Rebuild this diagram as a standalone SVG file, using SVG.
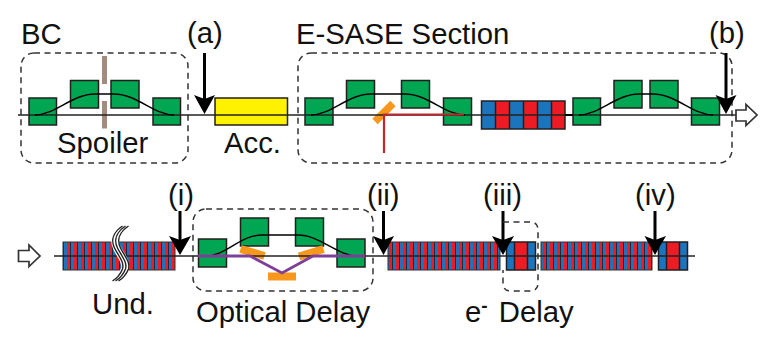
<svg xmlns="http://www.w3.org/2000/svg" width="766" height="337" viewBox="0 0 766 337">
<style>
text{font-family:"Liberation Sans",Arial,sans-serif;font-size:29.3px;fill:#111}
.g{fill:#00a651;stroke:#231f20;stroke-width:1.5}
.box{fill:none;stroke:#333;stroke-width:1.5;stroke-dasharray:6 4.5}
.beam{fill:none;stroke:#222;stroke-width:1.4}
.curve{fill:none;stroke:#000;stroke-width:1.4}
.arr{stroke:#000;stroke-width:3;fill:none}
.hd{fill:#000}
.b{fill:#1c75bc}.r{fill:#ed1c24}
.o{stroke:#231f20;stroke-width:1.5;fill:none}
.m{fill:#f7981d}
.hollow{fill:#fff;stroke:#333;stroke-width:1.7}
.w{fill:none;stroke:#222;stroke-width:1.4}
</style>
<defs>
<pattern id="st" width="7" height="28" patternUnits="userSpaceOnUse" x="63" y="242">
<rect width="7" height="28" fill="#1c75bc"/><rect x="4" width="3" height="28" fill="#ed1c24"/><rect x="0" width="1" height="28" fill="#1a2a44"/>
</pattern>
</defs>
<rect width="766" height="337" fill="#fff"/>
<g id="labels">
<text x="21" y="44">BC</text>
<text x="187" y="43">(a)</text>
<text x="296" y="44">E-SASE Section</text>
<text x="709" y="43">(b)</text>
<text x="57" y="153">Spoiler</text>
<text x="224" y="153">Acc.</text>
<text x="168" y="205">(i)</text>
<text x="367" y="205">(ii)</text>
<text x="483" y="205">(iii)</text>
<text x="635" y="205">(iv)</text>
<text x="92" y="314">Und.</text>
<text x="196" y="322">Optical Delay</text>
<text x="465" y="322">e<tspan font-size="19" font-weight="bold" dy="-10">-</tspan><tspan dy="10" dx="3"> Delay</tspan></text>
</g>
<g id="bc">
<rect class="box" x="21" y="53" width="167" height="110" rx="13"/>
<rect class="g" x="29" y="98" width="27.5" height="27"/>
<rect class="g" x="70.5" y="80.5" width="28" height="27.5"/>
<rect class="g" x="111" y="80.5" width="28" height="27.5"/>
<rect class="g" x="153" y="98" width="27.5" height="27"/>
<rect x="102" y="56" width="5" height="28" fill="#a38b7d"/>
<rect x="102" y="101" width="5" height="27.5" fill="#a38b7d"/>
</g>
<g id="acc"><rect x="215" y="98" width="72.5" height="27" fill="#fff200" stroke="#231f20" stroke-width="1.5"/></g>
<g id="esase">
<rect class="box" x="298" y="53" width="434" height="110" rx="13"/>
<rect class="g" x="305" y="98" width="28" height="27"/>
<rect class="g" x="346.5" y="80.5" width="28" height="27.5"/>
<rect class="g" x="401.5" y="80.5" width="28" height="27.5"/>
<rect class="g" x="443.5" y="98" width="28" height="27"/>
<line x1="375" y1="121.5" x2="393" y2="103.5" stroke="#f7981d" stroke-width="7.5"/>
<rect class="g" x="573" y="98" width="27.5" height="27"/>
<rect class="g" x="614" y="80.5" width="28" height="27.5"/>
<rect class="g" x="650" y="80.5" width="28" height="27.5"/>
<rect class="g" x="691.5" y="98" width="28" height="27"/>
<g id="und-top">
<rect class="b" x="481.5" y="101" width="14" height="28"/><rect class="r" x="495.5" y="101" width="14" height="28"/><rect class="b" x="509.5" y="101" width="14" height="28"/><rect class="r" x="523.5" y="101" width="14" height="28"/><rect class="b" x="537.5" y="101" width="14" height="28"/><rect class="r" x="551.5" y="101" width="13.5" height="28"/>
<path class="o" d="M481.5 101H565V129H481.5ZM495.5 101V129M509.5 101V129M523.5 101V129M537.5 101V129M551.5 101V129"/>
</g>
</g>
<g id="connectors">
<line class="beam" x1="18" y1="115" x2="736" y2="115"/>
<line x1="565" y1="115" x2="573" y2="115" stroke="#000" stroke-width="2"/>
<path class="curve" d="M35 115C55 115 72 94 95 94H114C137 94 154 115 174 115"/>
<path class="curve" d="M311 115C331 115 348 94 371 94H405C428 94 445 115 465 115"/>
<path class="curve" d="M579 115C599 115 616 94 639 94H653C676 94 693 115 713 115"/>
<path d="M384 153V114.5H464" fill="none" stroke="#c1272d" stroke-width="2.2"/>
<line class="arr" x1="204.5" y1="53" x2="204.5" y2="100"/>
<path class="hd" d="M194 95L204.5 99L215 95L204.5 114Z"/>
<line class="arr" x1="726" y1="53" x2="726" y2="100"/>
<path class="hd" d="M715.5 95L726 99L736.5 95L726 114Z"/>
<path class="hollow" d="M736 110H746V104.5L757 115L746 125.5V121H736Z"/>
<path class="hollow" d="M18.5 250.5H29V245L40 256L29 266.5V261.5H18.5Z"/>
</g>
<g id="undulators">
<rect x="63" y="242" width="112" height="28" fill="url(#st)" stroke="#333" stroke-width="1"/>
<rect x="388" y="242" width="112" height="28" fill="url(#st)" stroke="#333" stroke-width="1"/>
<rect x="541" y="242" width="111" height="28" fill="url(#st)" stroke="#333" stroke-width="1"/>
<rect class="b" x="506.5" y="242" width="8" height="28"/><rect class="r" x="514.5" y="242" width="13" height="28"/><rect class="b" x="527.5" y="242" width="8" height="28"/>
<path class="o" d="M506.5 242H535.5V270H506.5ZM514.5 242V270M527.5 242V270"/>
<rect class="b" x="658.5" y="242" width="8" height="28"/><rect class="r" x="666.5" y="242" width="13" height="28"/><rect class="b" x="679.5" y="242" width="8" height="28"/>
<path class="o" d="M658.5 242H687.5V270H658.5ZM666.5 242V270M679.5 242V270"/>
</g>
<g id="optical-delay">
<rect class="box" x="193" y="209" width="180" height="82" rx="13"/>
<rect class="g" x="198.5" y="239" width="28" height="28"/>
<rect class="g" x="240.5" y="218" width="28" height="28"/>
<rect class="g" x="295.5" y="218" width="28" height="28"/>
<rect class="g" x="337" y="239" width="28" height="28"/>
<line x1="240.5" y1="249" x2="264.5" y2="256" stroke="#f7981d" stroke-width="8"/>
<line x1="299" y1="256.5" x2="323.5" y2="249" stroke="#f7981d" stroke-width="8"/>
<rect class="m" x="268" y="272.5" width="28" height="8"/>
</g>
<g id="connectors-bottom">
<line class="beam" x1="54" y1="256" x2="695" y2="256"/>
<path class="curve" d="M206 256C226 256 240 235 262 235H298C320 235 337 256 358 256"/>
<path d="M198 256H250L282 273L313 256H365" fill="none" stroke="#7f3f98" stroke-width="2.8"/>
<line class="arr" x1="180" y1="211" x2="180" y2="241"/>
<path class="hd" d="M169 236L180 240L191 236L180 255Z"/>
<line class="arr" x1="383.5" y1="211" x2="383.5" y2="241"/>
<path class="hd" d="M373 236L383.5 240L394 236L383.5 255Z"/>
<line class="arr" x1="503" y1="211" x2="503" y2="241"/>
<path class="hd" d="M492 236L503 240L514 236L503 255Z"/>
<line class="arr" x1="655" y1="211" x2="655" y2="241"/>
<path class="hd" d="M644.5 236L655 240L666 236L655 255Z"/>
</g>
<g id="break">
<path d="M125 226C116 232 113 240 117 248C121 256 127 262 125 269C123 274 120 278 115 281" fill="none" stroke="#fff" stroke-width="8"/>
<path class="w" d="M122.5 226C113.5 232 110.5 240 114.5 248C118.5 256 124.5 262 122.5 269C120.5 274 117.5 278 112.5 281"/>
<path class="w" d="M125.5 226C116.5 232 113.5 240 117.5 248C121.5 256 127.5 262 125.5 269C123.5 274 120.5 278 115.5 281"/>
<path class="w" d="M128.5 226C119.5 232 116.5 240 120.5 248C124.5 256 130.5 262 128.5 269C126.5 274 123.5 278 118.5 281"/>
</g>
<g id="delay-box"><path class="box" d="M503 222H530Q538 222 538 230V283Q538 291 530 291H511Q503 291 503 283V270"/></g>
</svg>
